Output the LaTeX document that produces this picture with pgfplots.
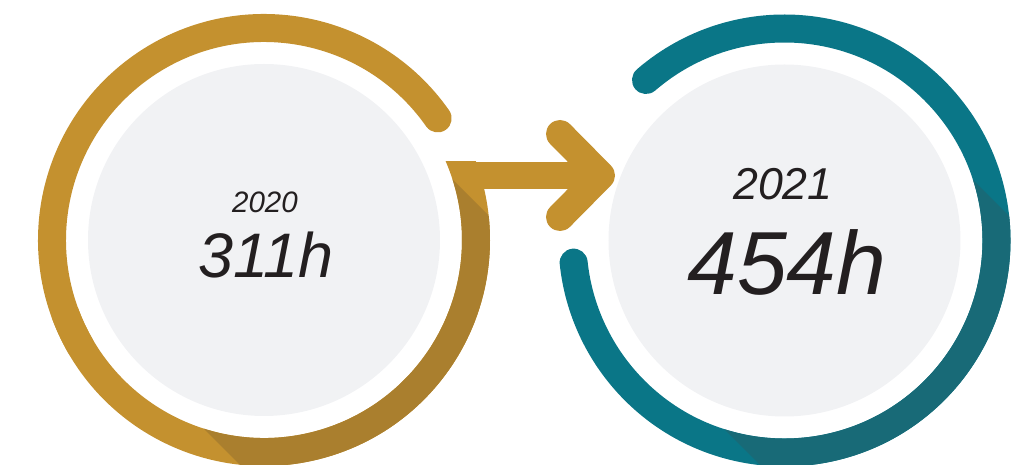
\documentclass[border=0pt]{standalone}
\usepackage{pgfplots}
\pgfplotsset{compat=1.18}
\usepackage{fontspec}
\setmainfont{Liberation Sans}
\definecolor{gold}{HTML}{C4912F}
\definecolor{golddark}{HTML}{AA7F2E}
\definecolor{tealA}{HTML}{0A7687}
\definecolor{tealdark}{HTML}{186A77}
\definecolor{bgray}{HTML}{F1F2F4}
\definecolor{txt}{HTML}{231F20}
\begin{document}
\begin{tikzpicture}
\useasboundingbox (0,0) rectangle (10.18cm,4.65cm);
\clip (0,0) rectangle (10.18cm,4.65cm);
\begin{axis}[at={(0,0)},anchor=south west,scale only axis,width=10.18cm,height=4.65cm,
  xmin=0,xmax=1018,ymin=0,ymax=465,hide axis,clip=false]
% discs
\fill[bgray] (axis cs:264,225) circle[radius=17.6mm];
\fill[bgray] (axis cs:784.5,224.5) circle[radius=17.6mm];
% left ring
\draw[gold,line width=2.8mm,line cap=round,shift={(axis cs:264,225)}] (35:21.2mm) arc[start angle=35,end angle=210,radius=21.2mm];
\begin{scope}
\clip (axis cs:0,0) rectangle (axis cs:1018,303);
\draw[gold,line width=2.8mm,shift={(axis cs:264,225)}] (200:21.2mm) arc[start angle=200,end angle=385,radius=21.2mm];
\end{scope}
% left shadow
\begin{scope}
\clip (axis cs:388.5,349.5) -- (axis cs:888.5,-150.5) -- (axis cs:639.5,-399.5) -- (axis cs:139.5,100.5) -- cycle;
\clip (axis cs:0,0) rectangle (axis cs:1018,303);
\draw[golddark,line width=2.8mm,shift={(axis cs:264,225)}] (200:21.2mm) arc[start angle=200,end angle=385,radius=21.2mm];
\end{scope}
% arrow
\fill[gold] (axis cs:470,276) rectangle (axis cs:600,303);
\draw[gold,line width=2.8mm,line cap=round,line join=round] (axis cs:560,331) -- (axis cs:601,289.5) -- (axis cs:560,248);
% right ring
\draw[tealA,line width=2.8mm,line cap=round,shift={(axis cs:784.5,224.5)}] (130.8:21.2mm) arc[start angle=130.8,end angle=-174,radius=21.2mm];
\begin{scope}
\clip (axis cs:909,349) -- (axis cs:1409,-151) -- (axis cs:1160,-400) -- (axis cs:660,100) -- cycle;
\draw[tealdark,line width=2.8mm,shift={(axis cs:784.5,224.5)}] (60:21.2mm) arc[start angle=60,end angle=-160,radius=21.2mm];
\end{scope}
% texts
\node[anchor=base,text=txt,font=\itshape\fontsize{8.4}{10}\selectfont] at (axis cs:265,252) {2020};
\node[anchor=base,text=txt,font=\itshape\fontsize{17.9}{20}\selectfont] at (axis cs:266,187) {311h};
\node[anchor=base,text=txt,font=\itshape\fontsize{12.7}{15}\selectfont] at (axis cs:783,265) {2021};
\node[anchor=base,text=txt,font=\itshape\fontsize{25.5}{28}\selectfont] at (axis cs:787,170) {454h};
\end{axis}
\end{tikzpicture}
\end{document}
